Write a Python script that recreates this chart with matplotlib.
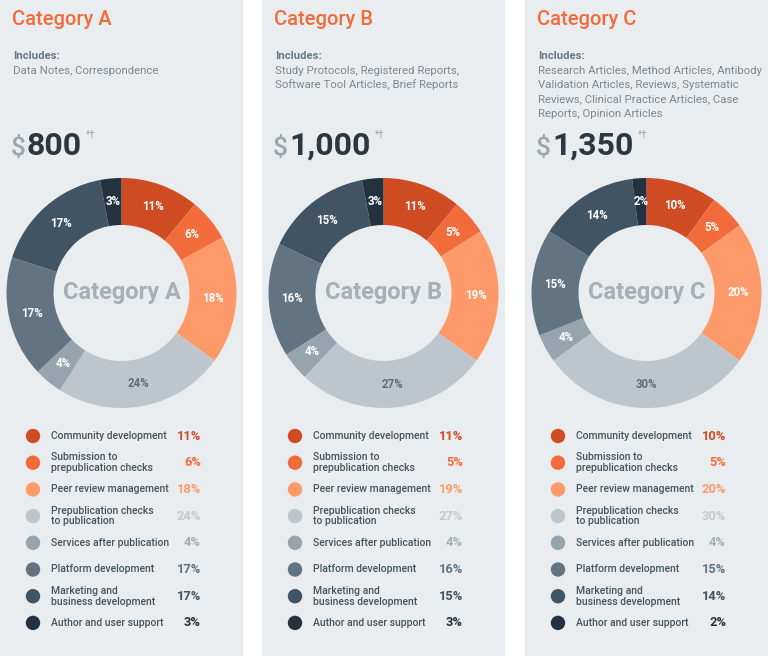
import matplotlib
matplotlib.use("Agg")
import matplotlib.pyplot as plt
from matplotlib.patches import Rectangle, Circle

plt.rcParams['font.family'] = ['Roboto', 'DejaVu Sans']

# ---------------- data ----------------
panel_titles = ["Category A", "Category B", "Category C"]
includes_lines = [
    ["Data Notes, Correspondence"],
    ["Study Protocols, Registered Reports,", "Software Tool Articles, Brief Reports"],
    ["Research Articles, Method Articles, Antibody",
     "Validation Articles, Reviews, Systematic",
     "Reviews, Clinical Practice Articles, Case",
     "Reports, Opinion Articles"],
]
prices = ["800", "1,000", "1,350"]
cost_labels = ["Community development", "Submission to\nprepublication checks",
               "Peer review management", "Prepublication checks\nto publication",
               "Services after publication", "Platform development",
               "Marketing and\nbusiness development", "Author and user support"]
values_a = [11, 6, 18, 24, 4, 17, 17, 3]
values_b = [11, 5, 19, 27, 4, 16, 15, 3]
values_c = [10, 5, 20, 30, 4, 15, 14, 2]
all_values = [values_a, values_b, values_c]

slice_colors = ["#cf4c22", "#f26b3a", "#fe9a69", "#bcc6cc", "#95a4ad",
                "#627482", "#415464", "#24323f"]
value_colors = ["#cf4c22", "#f26b3a", "#fd9b6b", "#c3cbd0", "#a3afb6",
                "#627482", "#435564", "#26333f"]

W, H = 768, 656
panel_x = [0, 262, 525]
panel_w = 243

fig = plt.figure(figsize=(W / 100, H / 100), dpi=100)
fig.patch.set_facecolor("white")
ax = fig.add_axes([0, 0, 1, 1])


def Y(y):
    return H - y


ORANGE = "#f26b3a"
GRAY_TXT = "#7b8893"

for i, x0 in enumerate(panel_x):
    ax.add_patch(Rectangle((x0, 0), panel_w, H, facecolor="#e9edef",
                           edgecolor="none", zorder=0))
    # title
    ax.text(x0 + 12, Y(25), panel_titles[i], color=ORANGE, fontsize=14.5,
            fontweight="medium", ha="left", va="baseline", zorder=3)
    ax.text(x0 + 13, Y(59), "Includes:", color="#6b7883", fontsize=8.2,
            fontweight="bold", ha="left", va="baseline", zorder=3)
    for j, line in enumerate(includes_lines[i]):
        ax.text(x0 + 13, Y(73.5 + 14.4 * j), line, color=GRAY_TXT, fontsize=8.2,
                ha="left", va="baseline", zorder=3)
    # price
    ax.text(x0 + 11, Y(155), "$", color="#9ba7af", fontsize=19,
            fontweight="medium", ha="left", va="baseline", zorder=3)
    num = ax.text(x0 + 27, Y(155), prices[i], color="#2b3842", fontsize=23,
                  fontweight="bold", ha="left", va="baseline", zorder=3)
    ax.annotate("*†", xy=(1, 1), xycoords=num, xytext=(3, 1),
                textcoords="offset points", color="#9ba7af", fontsize=7,
                ha="left", va="top", zorder=3)

    # donut
    cx, cy = x0 + panel_w / 2, Y(293)
    R, r = 115, 68
    wedges, texts, autotexts = ax.pie(
        all_values[i], colors=slice_colors, startangle=90, counterclock=False,
        radius=R, center=(cx, cy), autopct=lambda p: f"{p:.0f}%",
        pctdistance=0.8, wedgeprops=dict(width=R - r, edgecolor="none"),
        textprops=dict(color="white", fontsize=8.3, fontweight="bold"),
        frame=True)
    for w in wedges:
        w.set_zorder(2)
    for t in autotexts:
        t.set_zorder(3)
    autotexts[3].set_color("#5f707c")
    ax.text(cx, cy, panel_titles[i], color="#a5b0b8", fontsize=17,
            fontweight="bold", ha="center", va="center", zorder=3)

    # legend
    for k, (lab, v) in enumerate(zip(cost_labels, all_values[i])):
        yy = Y(436 + 26.7 * k)
        ax.add_patch(Circle((x0 + 33, yy), 7.2, facecolor=slice_colors[k],
                            edgecolor="none", zorder=3))
        ax.text(x0 + 51, yy, lab, color="#46545f", fontsize=7.5,
                fontweight="medium", ha="left", va="center",
                linespacing=1.1, zorder=3)
        ax.text(x0 + 201, yy, f"{v}%", color=value_colors[k], fontsize=9.3,
                fontweight="bold", ha="right", va="center", zorder=3)

ax.set_xlim(0, W)
ax.set_ylim(0, H)
ax.set_aspect("auto")
ax.axis("off")

fig.savefig("out.png", dpi=100, facecolor="white")
